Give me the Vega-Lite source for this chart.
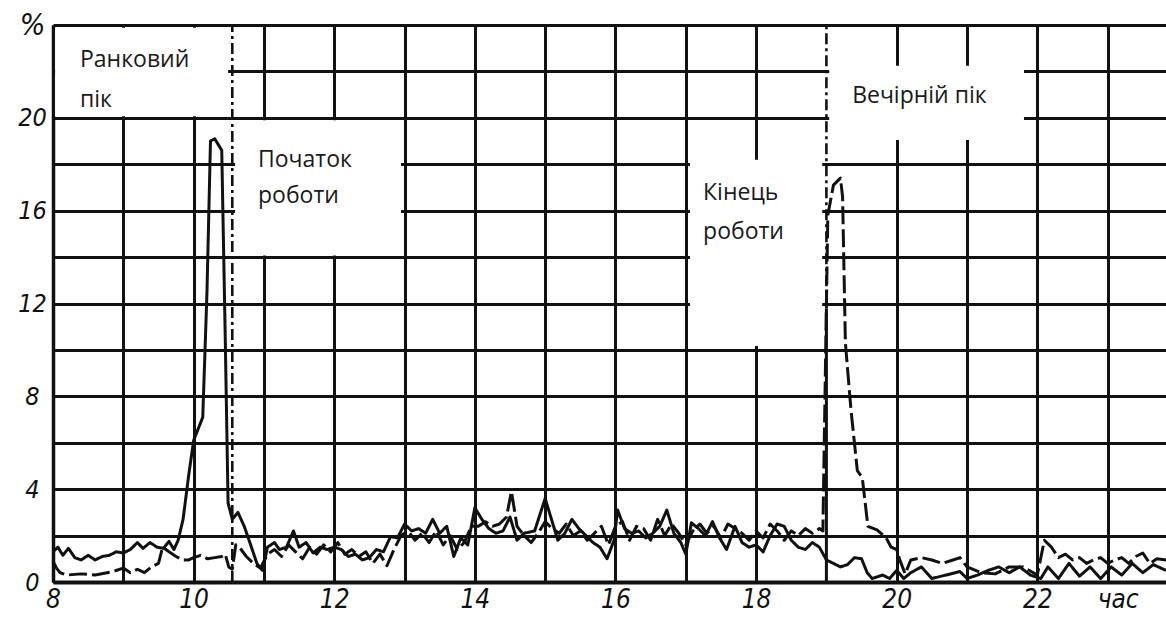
{
  "$schema": "https://vega.github.io/schema/vega-lite/v6.json",
  "width": 1113,
  "height": 557,
  "autosize": {"type": "none"},
  "padding": {"left": 53, "top": 25, "right": 0, "bottom": 37},
  "background": "white",
  "config": {"view": {"stroke": null}},
  "datasets": {
    "boxes": [
      {"t": 8.03, "t2": 10.49, "v": 20.07, "v2": 23.88},
      {"t": 10.59, "t2": 12.95, "v": 14.07, "v2": 19.9},
      {"t": 19.04, "t2": 21.81, "v": 19.05, "v2": 22.24},
      {"t": 17.06, "t2": 18.94, "v": 10.17, "v2": 18.19}
    ],
    "dashdot": [
      {"t": 10.55, "v": 0, "v2": 24},
      {"t": 19.0, "v": 11.8, "v2": 24}
    ],
    "solidrule": [
      {"t": 19.0, "v": 0, "v2": 11.8}
    ],
    "labels": [
      {"t": 8.384, "v": 22.2, "txt": "Ранковий"},
      {"t": 8.384, "v": 20.47, "txt": "пік"},
      {"t": 10.916, "v": 17.89, "txt": "Початок"},
      {"t": 10.916, "v": 16.34, "txt": "роботи"},
      {"t": 19.366, "v": 20.65, "txt": "Вечірній пік"},
      {"t": 17.246, "v": 16.47, "txt": "Кінець"},
      {"t": 17.246, "v": 14.78, "txt": "роботи"}
    ],
    "curves": [
      {"t":8.00,"v":1.3,"s":"A"},{"t":8.07,"v":1.5,"s":"A"},{"t":8.14,"v":1.15,"s":"A"},{"t":8.22,"v":1.45,"s":"A"},{"t":8.31,"v":1.05,"s":"A"},{"t":8.40,"v":0.95,"s":"A"},{"t":8.50,"v":1.15,"s":"A"},{"t":8.60,"v":0.95,"s":"A"},{"t":8.70,"v":1.1,"s":"A"},{"t":8.80,"v":1.15,"s":"A"},{"t":8.90,"v":1.3,"s":"A"},{"t":9.00,"v":1.25,"s":"A"},{"t":9.10,"v":1.4,"s":"A"},{"t":9.20,"v":1.7,"s":"A"},{"t":9.28,"v":1.45,"s":"A"},{"t":9.38,"v":1.7,"s":"A"},{"t":9.48,"v":1.5,"s":"A"},{"t":9.57,"v":1.45,"s":"A"},{"t":9.65,"v":1.75,"s":"A"},{"t":9.72,"v":1.4,"s":"A"},{"t":9.78,"v":1.8,"s":"A"},{"t":9.85,"v":2.7,"s":"A"},{"t":9.93,"v":4.6,"s":"A"},{"t":10.00,"v":6.1,"s":"A"},{"t":10.13,"v":7.1,"s":"A"},{"t":10.19,"v":12.5,"s":"A"},{"t":10.24,"v":19.0,"s":"A"},{"t":10.30,"v":19.1,"s":"A"},{"t":10.40,"v":18.6,"s":"A"},{"t":10.45,"v":10.5,"s":"A"},{"t":10.49,"v":3.4,"s":"A"},{"t":10.55,"v":2.7,"s":"A"},{"t":10.63,"v":3.0,"s":"A"},{"t":10.72,"v":2.4,"s":"A"},{"t":10.80,"v":1.7,"s":"A"},{"t":10.90,"v":0.8,"s":"A"},{"t":10.98,"v":0.5,"s":"A"},{"t":11.05,"v":1.5,"s":"A"},{"t":11.15,"v":1.7,"s":"A"},{"t":11.22,"v":1.4,"s":"A"},{"t":11.32,"v":1.5,"s":"A"},{"t":11.42,"v":2.2,"s":"A"},{"t":11.50,"v":1.5,"s":"A"},{"t":11.60,"v":1.7,"s":"A"},{"t":11.70,"v":1.25,"s":"A"},{"t":11.80,"v":1.5,"s":"A"},{"t":11.90,"v":1.4,"s":"A"},{"t":12.00,"v":1.5,"s":"A"},{"t":12.10,"v":1.4,"s":"A"},{"t":12.20,"v":1.1,"s":"A"},{"t":12.30,"v":1.2,"s":"A"},{"t":12.40,"v":0.95,"s":"A"},{"t":12.50,"v":1.05,"s":"A"},{"t":12.60,"v":1.4,"s":"A"},{"t":12.70,"v":1.3,"s":"A"},{"t":12.80,"v":1.95,"s":"A"},{"t":12.90,"v":1.9,"s":"A"},{"t":13.00,"v":2.5,"s":"A"},{"t":13.10,"v":2.2,"s":"A"},{"t":13.20,"v":2.3,"s":"A"},{"t":13.30,"v":2.1,"s":"A"},{"t":13.40,"v":2.7,"s":"A"},{"t":13.50,"v":2.1,"s":"A"},{"t":13.60,"v":2.4,"s":"A"},{"t":13.70,"v":1.1,"s":"A"},{"t":13.80,"v":1.9,"s":"A"},{"t":13.90,"v":1.6,"s":"A"},{"t":14.00,"v":3.2,"s":"A"},{"t":14.10,"v":2.7,"s":"A"},{"t":14.20,"v":2.3,"s":"A"},{"t":14.30,"v":2.1,"s":"A"},{"t":14.40,"v":2.2,"s":"A"},{"t":14.50,"v":2.8,"s":"A"},{"t":14.60,"v":1.8,"s":"A"},{"t":14.70,"v":2.1,"s":"A"},{"t":14.85,"v":2.2,"s":"A"},{"t":15.00,"v":3.6,"s":"A"},{"t":15.08,"v":2.8,"s":"A"},{"t":15.18,"v":1.8,"s":"A"},{"t":15.28,"v":2.1,"s":"A"},{"t":15.38,"v":2.7,"s":"A"},{"t":15.48,"v":2.3,"s":"A"},{"t":15.58,"v":2.0,"s":"A"},{"t":15.68,"v":1.7,"s":"A"},{"t":15.78,"v":1.5,"s":"A"},{"t":15.88,"v":1.0,"s":"A"},{"t":15.98,"v":1.8,"s":"A"},{"t":16.03,"v":3.1,"s":"A"},{"t":16.13,"v":2.3,"s":"A"},{"t":16.23,"v":2.1,"s":"A"},{"t":16.33,"v":2.2,"s":"A"},{"t":16.43,"v":1.9,"s":"A"},{"t":16.53,"v":2.1,"s":"A"},{"t":16.63,"v":2.4,"s":"A"},{"t":16.73,"v":3.1,"s":"A"},{"t":16.83,"v":2.1,"s":"A"},{"t":16.93,"v":1.7,"s":"A"},{"t":17.00,"v":1.2,"s":"A"},{"t":17.08,"v":2.55,"s":"A"},{"t":17.18,"v":2.3,"s":"A"},{"t":17.28,"v":2.0,"s":"A"},{"t":17.38,"v":2.6,"s":"A"},{"t":17.48,"v":1.9,"s":"A"},{"t":17.58,"v":1.4,"s":"A"},{"t":17.70,"v":2.4,"s":"A"},{"t":17.80,"v":1.7,"s":"A"},{"t":17.90,"v":1.5,"s":"A"},{"t":18.00,"v":1.6,"s":"A"},{"t":18.10,"v":1.3,"s":"A"},{"t":18.20,"v":2.0,"s":"A"},{"t":18.30,"v":2.5,"s":"A"},{"t":18.40,"v":2.4,"s":"A"},{"t":18.50,"v":1.8,"s":"A"},{"t":18.60,"v":1.5,"s":"A"},{"t":18.70,"v":1.4,"s":"A"},{"t":18.80,"v":1.7,"s":"A"},{"t":18.90,"v":1.5,"s":"A"},{"t":19.00,"v":0.95,"s":"A"},{"t":19.10,"v":0.8,"s":"A"},{"t":19.20,"v":0.65,"s":"A"},{"t":19.30,"v":0.75,"s":"A"},{"t":19.40,"v":1.05,"s":"A"},{"t":19.50,"v":1.0,"s":"A"},{"t":19.58,"v":0.4,"s":"A"},{"t":19.65,"v":0.15,"s":"A"},{"t":19.80,"v":0.3,"s":"A"},{"t":19.90,"v":0.15,"s":"A"},{"t":20.00,"v":0.5,"s":"A"},{"t":20.10,"v":0.15,"s":"A"},{"t":20.20,"v":0.4,"s":"A"},{"t":20.35,"v":0.65,"s":"A"},{"t":20.50,"v":0.15,"s":"A"},{"t":20.70,"v":0.3,"s":"A"},{"t":20.90,"v":0.45,"s":"A"},{"t":21.00,"v":0.15,"s":"A"},{"t":21.15,"v":0.3,"s":"A"},{"t":21.30,"v":0.5,"s":"A"},{"t":21.45,"v":0.65,"s":"A"},{"t":21.60,"v":0.4,"s":"A"},{"t":21.75,"v":0.65,"s":"A"},{"t":21.90,"v":0.3,"s":"A"},{"t":22.05,"v":0.15,"s":"A"},{"t":22.15,"v":0.65,"s":"A"},{"t":22.30,"v":0.15,"s":"A"},{"t":22.45,"v":0.8,"s":"A"},{"t":22.60,"v":0.25,"s":"A"},{"t":22.75,"v":0.65,"s":"A"},{"t":22.90,"v":0.15,"s":"A"},{"t":23.05,"v":0.65,"s":"A"},{"t":23.20,"v":0.3,"s":"A"},{"t":23.35,"v":0.8,"s":"A"},{"t":23.50,"v":0.4,"s":"A"},{"t":23.65,"v":0.75,"s":"A"},{"t":23.83,"v":0.5,"s":"A"},
      {"t":8.00,"v":0.9,"s":"B"},{"t":8.05,"v":0.6,"s":"B"},{"t":8.10,"v":0.4,"s":"B"},{"t":8.20,"v":0.3,"s":"B"},{"t":8.40,"v":0.35,"s":"B"},{"t":8.60,"v":0.3,"s":"B"},{"t":8.85,"v":0.45,"s":"B"},{"t":9.00,"v":0.6,"s":"B"},{"t":9.10,"v":0.4,"s":"B"},{"t":9.20,"v":0.55,"s":"B"},{"t":9.30,"v":0.4,"s":"B"},{"t":9.40,"v":0.65,"s":"B"},{"t":9.50,"v":0.8,"s":"B"},{"t":9.56,"v":1.5,"s":"B"},{"t":9.65,"v":1.3,"s":"B"},{"t":9.75,"v":1.1,"s":"B"},{"t":9.85,"v":0.95,"s":"B"},{"t":9.93,"v":0.95,"s":"B"},{"t":10.00,"v":1.05,"s":"B"},{"t":10.10,"v":1.15,"s":"B"},{"t":10.20,"v":1.0,"s":"B"},{"t":10.30,"v":1.05,"s":"B"},{"t":10.40,"v":1.1,"s":"B"},{"t":10.45,"v":1.2,"s":"B"},{"t":10.50,"v":0.65,"s":"B"},{"t":10.55,"v":0.55,"s":"B"},{"t":10.60,"v":1.6,"s":"B"},{"t":10.65,"v":1.5,"s":"B"},{"t":10.75,"v":1.1,"s":"B"},{"t":10.85,"v":0.8,"s":"B"},{"t":10.95,"v":0.6,"s":"B"},{"t":11.05,"v":1.2,"s":"B"},{"t":11.15,"v":1.4,"s":"B"},{"t":11.25,"v":1.1,"s":"B"},{"t":11.35,"v":1.6,"s":"B"},{"t":11.45,"v":1.3,"s":"B"},{"t":11.55,"v":1.0,"s":"B"},{"t":11.65,"v":1.5,"s":"B"},{"t":11.75,"v":1.2,"s":"B"},{"t":11.85,"v":1.6,"s":"B"},{"t":11.95,"v":1.3,"s":"B"},{"t":12.05,"v":1.7,"s":"B"},{"t":12.15,"v":1.2,"s":"B"},{"t":12.25,"v":1.4,"s":"B"},{"t":12.35,"v":1.1,"s":"B"},{"t":12.45,"v":1.3,"s":"B"},{"t":12.55,"v":0.8,"s":"B"},{"t":12.65,"v":1.2,"s":"B"},{"t":12.75,"v":0.7,"s":"B"},{"t":12.85,"v":1.4,"s":"B"},{"t":12.95,"v":2.0,"s":"B"},{"t":13.05,"v":2.2,"s":"B"},{"t":13.15,"v":1.8,"s":"B"},{"t":13.25,"v":2.1,"s":"B"},{"t":13.35,"v":1.7,"s":"B"},{"t":13.45,"v":2.2,"s":"B"},{"t":13.55,"v":1.6,"s":"B"},{"t":13.65,"v":2.0,"s":"B"},{"t":13.75,"v":1.4,"s":"B"},{"t":13.85,"v":1.7,"s":"B"},{"t":13.95,"v":2.4,"s":"B"},{"t":14.05,"v":2.4,"s":"B"},{"t":14.15,"v":2.6,"s":"B"},{"t":14.25,"v":2.4,"s":"B"},{"t":14.35,"v":2.5,"s":"B"},{"t":14.45,"v":2.8,"s":"B"},{"t":14.52,"v":3.9,"s":"B"},{"t":14.60,"v":2.4,"s":"B"},{"t":14.70,"v":2.0,"s":"B"},{"t":14.80,"v":1.7,"s":"B"},{"t":14.90,"v":2.1,"s":"B"},{"t":15.00,"v":2.6,"s":"B"},{"t":15.10,"v":2.3,"s":"B"},{"t":15.20,"v":2.1,"s":"B"},{"t":15.30,"v":2.5,"s":"B"},{"t":15.40,"v":2.0,"s":"B"},{"t":15.50,"v":2.2,"s":"B"},{"t":15.60,"v":1.8,"s":"B"},{"t":15.70,"v":2.1,"s":"B"},{"t":15.80,"v":2.4,"s":"B"},{"t":15.90,"v":1.6,"s":"B"},{"t":16.00,"v":2.4,"s":"B"},{"t":16.10,"v":2.6,"s":"B"},{"t":16.20,"v":1.8,"s":"B"},{"t":16.30,"v":2.4,"s":"B"},{"t":16.40,"v":2.3,"s":"B"},{"t":16.50,"v":1.8,"s":"B"},{"t":16.60,"v":2.7,"s":"B"},{"t":16.70,"v":2.0,"s":"B"},{"t":16.80,"v":2.5,"s":"B"},{"t":16.90,"v":2.1,"s":"B"},{"t":17.00,"v":1.6,"s":"B"},{"t":17.10,"v":2.2,"s":"B"},{"t":17.20,"v":2.5,"s":"B"},{"t":17.30,"v":2.1,"s":"B"},{"t":17.40,"v":2.4,"s":"B"},{"t":17.50,"v":1.9,"s":"B"},{"t":17.60,"v":2.5,"s":"B"},{"t":17.70,"v":2.3,"s":"B"},{"t":17.80,"v":2.1,"s":"B"},{"t":17.90,"v":1.8,"s":"B"},{"t":18.00,"v":2.2,"s":"B"},{"t":18.10,"v":1.9,"s":"B"},{"t":18.20,"v":2.5,"s":"B"},{"t":18.30,"v":2.2,"s":"B"},{"t":18.40,"v":1.8,"s":"B"},{"t":18.50,"v":2.2,"s":"B"},{"t":18.60,"v":2.0,"s":"B"},{"t":18.70,"v":2.3,"s":"B"},{"t":18.80,"v":2.1,"s":"B"},{"t":18.90,"v":2.3,"s":"B"},{"t":18.95,"v":2.2,"s":"B"},{"t":19.02,"v":15.8,"s":"B"},{"t":19.10,"v":17.1,"s":"B"},{"t":19.20,"v":17.4,"s":"B"},{"t":19.23,"v":16.6,"s":"B"},{"t":19.27,"v":10.3,"s":"B"},{"t":19.35,"v":7.4,"s":"B"},{"t":19.44,"v":4.8,"s":"B"},{"t":19.51,"v":4.5,"s":"B"},{"t":19.59,"v":2.4,"s":"B"},{"t":19.72,"v":2.25,"s":"B"},{"t":19.85,"v":1.9,"s":"B"},{"t":19.92,"v":1.5,"s":"B"},{"t":20.00,"v":1.4,"s":"B"},{"t":20.05,"v":0.9,"s":"B"},{"t":20.12,"v":0.35,"s":"B"},{"t":20.20,"v":0.95,"s":"B"},{"t":20.35,"v":1.05,"s":"B"},{"t":20.50,"v":0.95,"s":"B"},{"t":20.65,"v":0.8,"s":"B"},{"t":20.80,"v":0.95,"s":"B"},{"t":20.90,"v":1.05,"s":"B"},{"t":21.00,"v":0.65,"s":"B"},{"t":21.20,"v":0.4,"s":"B"},{"t":21.40,"v":0.35,"s":"B"},{"t":21.60,"v":0.65,"s":"B"},{"t":21.80,"v":0.65,"s":"B"},{"t":22.00,"v":0.3,"s":"B"},{"t":22.10,"v":1.8,"s":"B"},{"t":22.20,"v":1.5,"s":"B"},{"t":22.30,"v":1.05,"s":"B"},{"t":22.40,"v":1.2,"s":"B"},{"t":22.50,"v":0.95,"s":"B"},{"t":22.60,"v":1.05,"s":"B"},{"t":22.70,"v":0.8,"s":"B"},{"t":22.80,"v":0.95,"s":"B"},{"t":22.90,"v":1.05,"s":"B"},{"t":23.00,"v":0.8,"s":"B"},{"t":23.10,"v":0.95,"s":"B"},{"t":23.20,"v":1.05,"s":"B"},{"t":23.30,"v":0.8,"s":"B"},{"t":23.40,"v":1.1,"s":"B"},{"t":23.50,"v":1.25,"s":"B"},{"t":23.60,"v":0.8,"s":"B"},{"t":23.70,"v":1.0,"s":"B"},{"t":23.83,"v":0.95,"s":"B"}
    ]
  },
  "encoding": {
    "x": {
      "field": "t",
      "type": "quantitative",
      "scale": {"domain": [8, 23.83], "nice": false, "zero": false},
      "axis": {
        "title": null,
        "values": [8, 9, 10, 11, 12, 13, 14, 15, 16, 17, 18, 20, 21, 22, 23],
        "grid": true,
        "gridColor": "#111111",
        "gridWidth": 3,
        "ticks": false,
        "tickSize": 0,
        "domain": true,
        "domainColor": "#111111",
        "domainWidth": 4,
        "format": "d",
        "labelExpr": "datum.value == 23 ? 'час' : (datum.value % 2 == 0 ? datum.label : '')",
        "labelFont": "Liberation Sans Narrow, DejaVu Sans Condensed, Liberation Sans",
        "labelFontStyle": "italic",
        "labelFontSize": 26,
        "labelColor": "#111111",
        "labelPadding": 4,
        "labelOverlap": false,
        "labelFlush": false,
        "labelBound": false,
        "labelOffset": {"condition": {"test": "datum.value == 23", "value": 10}, "value": 0}
      }
    },
    "y": {
      "field": "v",
      "type": "quantitative",
      "scale": {"domain": [0, 24], "nice": false, "zero": true},
      "axis": {
        "title": null,
        "values": [0, 2, 4, 6, 8, 10, 12, 14, 16, 18, 20, 22, 24],
        "grid": true,
        "gridColor": "#111111",
        "gridWidth": 3,
        "ticks": false,
        "tickSize": 0,
        "domain": true,
        "domainColor": "#111111",
        "domainWidth": 3.5,
        "format": "d",
        "labelExpr": "datum.value == 24 ? '%' : (datum.value % 4 == 0 ? datum.label : '')",
        "labelAlign": "center",
        "labelPadding": 21,
        "labelFont": "Liberation Sans Narrow, DejaVu Sans Condensed, Liberation Sans",
        "labelFontStyle": "italic",
        "labelFontSize": {"condition": {"test": "datum.value == 24", "value": 30}, "value": 25},
        "labelColor": "#111111",
        "labelOverlap": false,
        "labelFlush": false,
        "labelBound": false
      }
    }
  },
  "layer": [
    {
      "data": {"name": "boxes"},
      "mark": {"type": "rect", "fill": "white", "opacity": 1},
      "encoding": {"x2": {"field": "t2"}, "y2": {"field": "v2"}}
    },
    {
      "data": {"name": "solidrule"},
      "mark": {"type": "rule", "color": "#111111", "strokeWidth": 3},
      "encoding": {"y2": {"field": "v2"}}
    },
    {
      "data": {"name": "dashdot"},
      "mark": {"type": "rule", "color": "#111111", "strokeWidth": 2.6, "strokeDash": [11, 4, 3, 4]},
      "encoding": {"y2": {"field": "v2"}}
    },
    {
      "data": {"name": "curves"},
      "mark": {"type": "line", "color": "#111111", "strokeWidth": 3, "strokeJoin": "round"},
      "encoding": {
        "strokeDash": {
          "field": "s",
          "type": "nominal",
          "scale": {"domain": ["A", "B"], "range": [[1, 0], [18, 5]]},
          "legend": null
        }
      }
    },
    {
      "data": {"name": "labels"},
      "mark": {"type": "text", "align": "left", "baseline": "alphabetic", "font": "Open Sans", "fontSize": 23, "color": "#1a1a1a"},
      "encoding": {"text": {"field": "txt"}}
    }
  ]
}
